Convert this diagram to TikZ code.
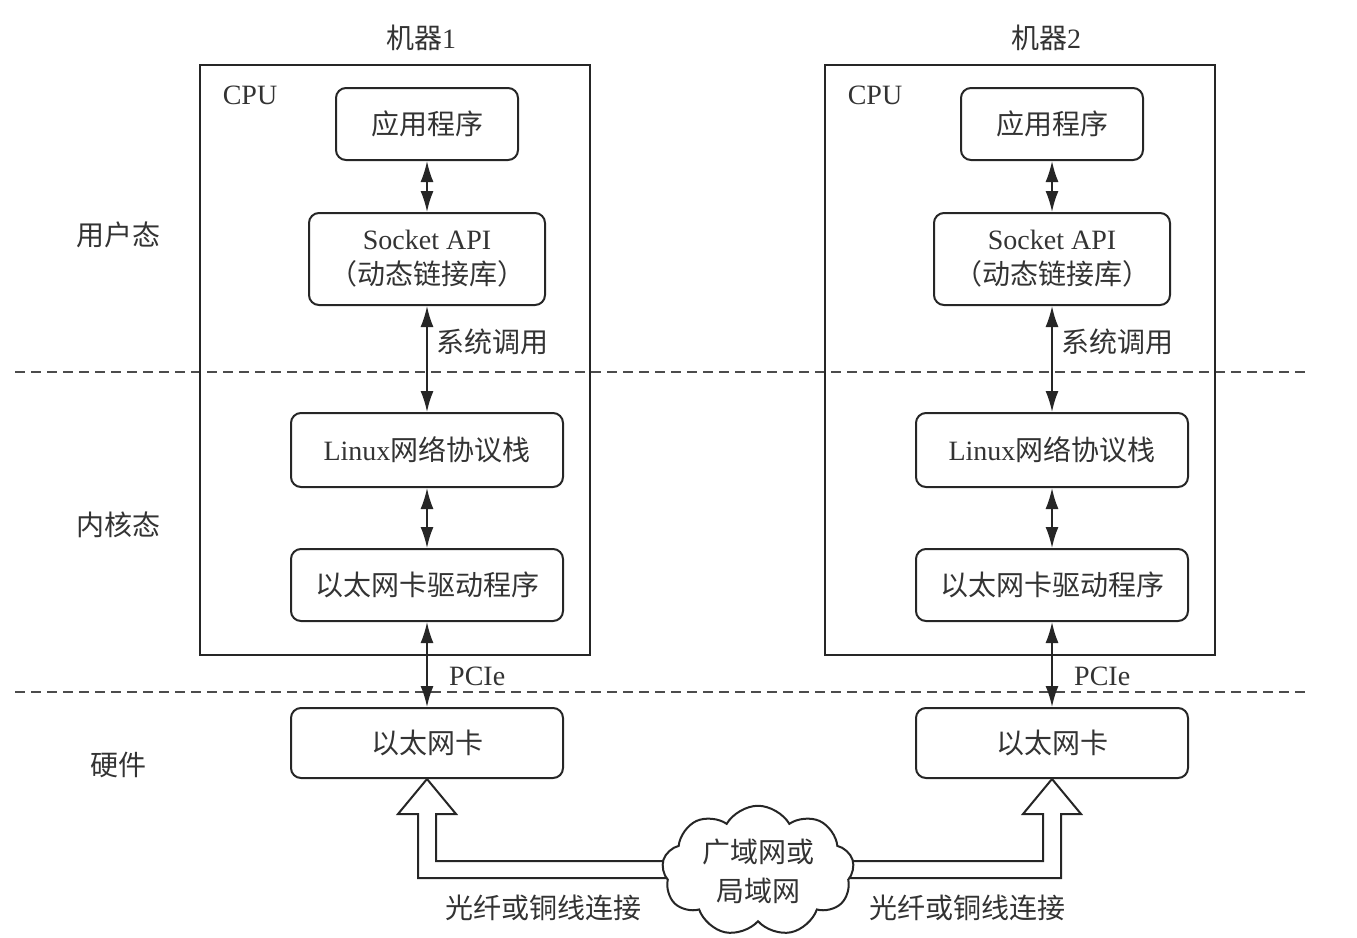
\documentclass[tikz,border=0pt]{standalone}
\usepackage{fontspec}
\setmainfont{Liberation Serif}
\newfontfamily\cjk{Noto Sans CJK SC}
\usetikzlibrary{arrows.meta,shapes.symbols}

\begin{document}
\begin{tikzpicture}[x=1pt,y=-1pt,
  every node/.style={font=\fontsize{28}{35}\selectfont,text=black!80,inner sep=0pt},
  cn/.style={font=\fontsize{28}{39}\selectfont\cjk},
  layer/.style={draw=black!85,line width=2pt,rounded corners=10pt},
  machine/.style={draw=black!85,line width=2.4pt},
  link/.style={line width=1.8pt,draw=black!85,{Latex[length=21pt,width=13pt]}-{Latex[length=21pt,width=13pt]}},
  divider/.style={draw=black!70,line width=2pt,dash pattern=on 10pt off 6pt},
  hollow/.style={draw=black!85,line width=2pt,fill=white,line join=miter}]
\useasboundingbox (0,0) rectangle (1357,937);
\draw[divider] (15,372) -- (1310,372);
\draw[divider] (15,692) -- (1310,692);
\node[cn] (user) at (118,235) {用户态};
\node[cn] (kernel) at (118,525) {内核态};
\node[cn] (hw) at (118,765) {硬件};
\foreach \m/\dx in {1/0,2/625}{
\begin{scope}[xshift=\dx pt]
\node (title\m) at (421,38) {{\cjk 机器}\m};
\node[machine,minimum width=390pt,minimum height=590pt] (cpu\m) at (395,360) {};
\node (cpulabel\m) at (250,95) {CPU};
\node[layer,cn,minimum width=182pt,minimum height=72pt] (app\m) at (427,124) {应用程序};
\node[layer,minimum width=236pt,minimum height=92pt,align=center] (sock\m) at (427,259) {Socket API\\{\cjk （动态链接库）}};
\node[layer,minimum width=272pt,minimum height=74pt] (linux\m) at (427,450) {Linux{\cjk 网络协议栈}};
\node[layer,cn,minimum width=272pt,minimum height=72pt] (drv\m) at (427,585) {以太网卡驱动程序};
\node[layer,cn,minimum width=272pt,minimum height=70pt] (nic\m) at (427,743) {以太网卡};
\draw[link] (app\m) -- (sock\m);
\draw[link] (sock\m) -- (linux\m);
\draw[link] (linux\m) -- (drv\m);
\draw[link] (drv\m) -- (nic\m);
\node[cn,anchor=west] (syscall\m) at (436,342) {系统调用};
\node[anchor=west] (pcie\m) at (449,676) {PCIe};
\end{scope}
}
\draw[hollow] (nic1.south) -- ++(29,35) -- ++(-20,0) -- ++(0,47) -- ++(264,0) -- ++(0,17) -- ++(-282,0) -- ++(0,-64) -- ++(-20,0) -- cycle;
\draw[hollow] (nic2.south) -- ++(-29,35) -- ++(20,0) -- ++(0,47) -- ++(-233,0) -- ++(0,17) -- ++(251,0) -- ++(0,-64) -- ++(20,0) -- cycle;
\node[cloud,cn,draw=black!85,line width=2pt,fill=white,cloud puffs=9,cloud puff arc=120,aspect=1.5,minimum width=192pt,minimum height=128pt,align=center] (net) at (758,871) {广域网或\\局域网};
\node[cn] (fiber1) at (543,908) {光纤或铜线连接};
\node[cn] (fiber2) at (967,908) {光纤或铜线连接};
\end{tikzpicture}
\end{document}
